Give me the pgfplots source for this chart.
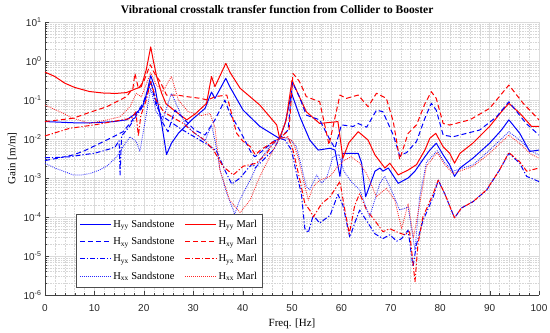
\documentclass[border=0pt]{standalone}
\usepackage{fontspec}
\setmainfont{Liberation Serif}
\setsansfont{Liberation Sans}
\usepackage{pgfplots}
\pgfplotsset{compat=1.18}
\tikzset{
  bS/.style={draw=blue, line width=1pt},
  rS/.style={draw=red, line width=1pt},
  bD/.style={draw=blue, line width=1pt, dash pattern=on 5pt off 3pt},
  rD/.style={draw=red, line width=1pt, dash pattern=on 5pt off 3pt},
  bDD/.style={draw=blue, line width=1pt, dash pattern=on 5pt off 2pt on 1.2pt off 2pt},
  rDD/.style={draw=red, line width=1pt, dash pattern=on 5pt off 2pt on 1.2pt off 2pt},
  bO/.style={draw=blue!85, line width=0.8pt, dash pattern=on 0.9pt off 1.1pt},
  rO/.style={draw=red!85, line width=0.8pt, dash pattern=on 0.9pt off 1.1pt},
}
\begin{document}
\begin{tikzpicture}
\begin{axis}[
  width=494pt, height=273pt, scale only axis,
  xmin=0, xmax=100, ymode=log, ymin=1e-6, ymax=1e1,
  axis x line*=bottom, axis y line*=left,
  axis line style={-, black!75},
  xtick={0,10,...,100},
  xticklabels={0,10,20,30,40,50,60,70,80,90,100},
  ytick={1e-6,1e-5,1e-4,1e-3,1e-2,1e-1,1,10},
  yticklabels={10\textsuperscript{-6},10\textsuperscript{-5},10\textsuperscript{-4},10\textsuperscript{-3},10\textsuperscript{-2},10\textsuperscript{-1},10\textsuperscript{0},10\textsuperscript{1}},
  ticklabel style={font=\sffamily\fontsize{10}{11}\selectfont, text=black!85},
  xticklabel style={yshift=-6pt},
  minor x tick num=4,
  tick align=inside, tick pos=left,
  major tick length=4pt, minor tick length=2pt,
  tick style={black!75},
  grid=both,
  major grid style={black!14, line width=0.4pt},
  minor grid style={black!16, line width=0.3pt, dash pattern=on 0.8pt off 0.8pt},
  xlabel={Freq. [Hz]}, ylabel={Gain [m/m]},
  label style={font=\fontsize{11}{12}\selectfont},
  title={\textbf{Vibrational crosstalk transfer function from Collider to Booster}},
  title style={font=\fontsize{11.5}{13}\selectfont, at={(0.47,1)}, yshift=-1pt},
  legend columns=2,
  legend cell align=left,
  legend style={name=leg, at={(0.063,0.03)}, anchor=south west, font=\fontsize{10.5}{12}\selectfont,
    draw=none, fill=white, inner xsep=3pt, inner ysep=4pt,
    /tikz/every even column/.append style={column sep=8pt},
    row sep=4.5pt},
  every axis plot/.append style={line join=round},
]
\coordinate (A) at (rel axis cs:0,0);
\coordinate (B) at (rel axis cs:1,1);
% Hyy Sandstone
\addplot[bS, legend image code/.code={\draw[bS] (0pt,0pt) -- (31pt,0pt);}] coordinates {
(0,0.028) (3,0.027) (6,0.026) (9,0.026) (12,0.027) (14,0.028) (16.5,0.031) (18.5,0.046) (19.8,0.07) (20.6,0.15) (21.4,0.42) (22.3,0.2) (23.6,0.025) (24.6,0.004) (25.6,0.0078) (27,0.014) (29.7,0.031) (32.4,0.061) (33.7,0.16) (34.4,0.11) (36.6,0.36) (37.4,0.22) (40.1,0.055) (43.5,0.021) (46.9,0.0114) (47.5,0.0104) (48.6,0.025) (49.9,0.15) (51.6,0.037) (53.6,0.0094) (55.3,0.0052) (57.7,0.0058) (58.7,0.0052) (59.7,0.0011) (60.3,0.0043) (63.4,0.0043) (64.1,0.0024) (64.9,0.00033) (66.8,0.0015) (67.8,0.0018) (68.4,0.0015) (69.5,0.0018) (71.5,0.00073) (73.5,0.001) (74.9,0.0015) (76.9,0.0035) (77.9,0.0052) (79.2,0.0078) (80.6,0.0039) (81.9,0.0022) (82.9,0.0011) (84,0.0018) (86.6,0.0032) (90,0.0078) (92.4,0.017) (93.9,0.031) (96.1,0.014) (98.1,0.0048) (100,0.0052)};
\addlegendentry{H\textsubscript{yy} Sandstone}
% Hyy Marl
\addplot[rS, legend image code/.code={\draw[rS] (0pt,0pt) -- (31pt,0pt);}] coordinates {
(0,0.52) (2,0.4) (4,0.27) (6,0.21) (9,0.165) (12,0.15) (14.5,0.148) (16.5,0.155) (18.2,0.19) (19.5,0.22) (20.5,0.6) (21.4,2.3) (21.9,1.06) (22.6,0.4) (23.6,0.15) (24.5,0.08) (26.5,0.05) (28.7,0.031) (30.5,0.045) (32.7,0.082) (33.7,0.4) (34.4,0.22) (36.6,0.87) (37.5,0.5) (39.5,0.2) (43.5,0.074) (46.9,0.023) (47.5,0.0104) (48.8,0.03) (50,0.32) (51.5,0.12) (52.9,0.05) (55.6,0.025) (59.3,0.028) (60.3,0.0032) (61.5,0.008) (63.4,0.0154) (65.4,0.0094) (66.8,0.0039) (68.8,0.0018) (69.8,0.0024) (71.5,0.0012) (73.5,0.0016) (75.2,0.0022) (76.9,0.0052) (77.9,0.0104) (79.1,0.014) (80.6,0.0063) (81.9,0.0043) (82.9,0.0024) (84,0.0043) (86.6,0.0078) (90,0.021) (92.4,0.05) (93.9,0.082) (96.1,0.046) (98.5,0.021) (100,0.021)};
\addlegendentry{H\textsubscript{yy} Marl}
% Hxy Sandstone
\addplot[bD, legend image code/.code={\draw[bD] (0pt,0pt) -- (31pt,0pt);}] coordinates {
(0,0.0028) (3,0.0033) (5.7,0.0039) (8,0.005) (10.5,0.0071) (13.8,0.0114) (15.8,0.0154) (17.5,0.028) (18.5,0.046) (19.8,0.08) (21.4,0.3) (22.6,0.082) (23.9,0.025) (24.9,0.0154) (26.3,0.055) (27.7,0.037) (30.3,0.017) (32.4,0.0126) (34.4,0.031) (36.4,0.1) (37.4,0.046) (39.4,0.017) (41.8,0.0043) (42.5,0.0035) (44.2,0.0052) (46.2,0.0086) (47.5,0.0104) (49.2,0.017) (50.1,0.28) (51.5,0.12) (52.9,0.041) (55.6,0.031) (57.7,0.0094) (58.7,0.0058) (60,0.023) (62.4,0.021) (63.4,0.025) (65.1,0.02) (67.1,0.055) (68.4,0.05) (70.5,0.0126) (71.8,0.0037) (73.2,0.0045) (75.2,0.0086) (76.9,0.034) (78.2,0.082) (79.2,0.055) (80.6,0.0126) (82.6,0.0114) (88,0.017) (91.4,0.037) (93.9,0.09) (97.4,0.025) (100,0.0126)};
\addlegendentry{H\textsubscript{xy} Sandstone}
% Hxy Marl
\addplot[rD, legend image code/.code={\draw[rD] (0pt,0pt) -- (31pt,0pt);}] coordinates {
(0,0.028) (3,0.031) (5.7,0.034) (9,0.048) (12.5,0.067) (16.5,0.122) (17.8,0.2) (18.2,0.48) (18.9,0.2) (20,0.3) (21.3,0.8) (22.3,0.45) (23.3,0.3) (24.6,0.134) (26.8,0.134) (28.7,0.122) (31.5,0.11) (32.9,0.1) (34.5,0.122) (36.8,0.134) (37.5,0.06) (38.8,0.014) (40,0.009) (41.6,0.0063) (42.6,0.0039) (43.6,0.0052) (46.3,0.0086) (47.5,0.0104) (49.4,0.017) (50.2,0.48) (51.5,0.3) (52.9,0.122) (55.6,0.09) (57.5,0.0071) (59.7,0.134) (61,0.11) (63.4,0.134) (65.4,0.067) (67.1,0.149) (69.1,0.11) (70.5,0.028) (71.8,0.003) (73.5,0.0139) (75.2,0.023) (76.9,0.08) (78.2,0.163) (79.2,0.11) (80.6,0.025) (81.9,0.0228) (86,0.031) (90,0.061) (93.9,0.242) (96.8,0.082) (100,0.031)};
\addlegendentry{H\textsubscript{xy} Marl}
% Hyx Sandstone
\addplot[bDD, legend image code/.code={\draw[bDD] (0pt,0pt) -- (31pt,0pt);}] coordinates {
(0,0.0033) (3,0.0034) (5,0.0035) (8,0.004) (10,0.0043) (13,0.0055) (14.2,0.0063) (15,0.009) (15.2,0.0012) (15.5,0.012) (17,0.02) (18.5,0.04) (19.5,0.06) (20.5,0.12) (21.4,0.3) (22.4,0.08) (23.5,0.04) (25,0.03) (27,0.02) (29,0.014) (31,0.01) (33,0.007) (34.7,0.005) (36.5,0.0015) (37.8,0.0007) (39.5,0.001) (41,0.0017) (42.1,0.0024) (42.5,0.0018) (44.8,0.0035) (46.2,0.0052) (47.5,0.0104) (48.6,0.0094) (49.9,0.0052) (50.9,0.0013) (51.9,0.0004) (52.6,0.00005) (53.3,0.00004) (54.3,0.00011) (55.6,0.00007) (57.7,0.00011) (59.3,0.00038) (60.3,0.0002) (61.7,0.00003) (62.7,0.00007) (63.7,0.00015) (65.1,0.00008) (66.8,0.000037) (68.4,0.000028) (69.8,0.000035) (71.2,0.000024) (72.2,0.000028) (73.5,0.000046) (74.5,0.0000053) (75.2,0.00002) (76.5,0.00008) (78.6,0.00033) (79.6,0.00088) (80.9,0.0004) (82.9,0.000095) (84.3,0.00017) (86.7,0.00025) (89.4,0.00049) (92,0.0016) (93.9,0.0043) (96.1,0.0024) (97.5,0.0011) (100,0.00081)};
\addlegendentry{H\textsubscript{yx} Sandstone}
% Hyx Marl
\addplot[rDD, legend image code/.code={\draw[rDD] (0pt,0pt) -- (31pt,0pt);}] coordinates {
(0,0.012) (5,0.0188) (10,0.023) (15,0.03) (17.5,0.034) (18.4,0.05) (18.9,0.012) (19.4,0.04) (20.5,0.1) (21.4,0.3) (22.5,0.1) (24,0.05) (26,0.035) (28,0.025) (30,0.015) (32,0.01) (34,0.0055) (36,0.002) (38.1,0.0012) (40.1,0.002) (42.8,0.0024) (44.9,0.0043) (46.2,0.0078) (47.5,0.0104) (49.2,0.0114) (50.2,0.0052) (51.6,0.00088) (52.6,0.00022) (53.6,0.00015) (54.3,0.0001) (56,0.00022) (57.7,0.00033) (59.7,0.00081) (60.7,0.00015) (61.6,0.000037) (62.7,0.0002) (63.7,0.0004) (65.1,0.00015) (66.8,0.00008) (68.4,0.000042) (69.8,0.00005) (71.5,0.00004) (72.8,0.000035) (73.8,0.000042) (74.9,0.0000022) (75.5,0.00002) (76.5,0.0001) (78.6,0.0004) (79.6,0.00088) (80.9,0.0004) (82.9,0.000095) (84.3,0.00017) (86.7,0.00025) (89.4,0.0005) (92,0.0016) (93.9,0.0045) (96.1,0.0026) (97.5,0.0015) (100,0.0018)};
\addlegendentry{H\textsubscript{yx} Marl}
% Hxx Sandstone
\addplot[bO, legend image code/.code={\draw[bO] (0pt,0pt) -- (31pt,0pt);}] coordinates {
(0,0.0024) (2,0.0018) (3.7,0.0015) (5.7,0.0012) (7.5,0.0012) (9.1,0.0013) (11,0.0016) (12.5,0.002) (14.5,0.0035) (15.8,0.0063) (17.2,0.0114) (18.5,0.0086) (19.2,0.0048) (20.3,0.03) (21.4,0.2) (22.5,0.05) (23.8,0.03) (25.6,0.149) (27,0.06) (28.3,0.025) (30.3,0.014) (32.4,0.009) (33.7,0.023) (34.5,0.008) (35.5,0.0015) (36.8,0.0004) (38.4,0.00012) (39.4,0.00027) (41.5,0.00088) (43.5,0.0029) (45.5,0.0063) (47.5,0.0104) (48.5,0.011) (49.9,0.009) (50.9,0.0063) (51.9,0.002) (52.9,0.0006) (53.6,0.0005) (55,0.0012) (56,0.00074) (57,0.001) (58.3,0.0035) (59.5,0.004) (60.5,0.0015) (62,0.0008) (63.7,0.0005) (65.7,0.0001) (67.8,0.00074) (68.8,0.0011) (70.5,0.00038) (71.8,0.00015) (73.5,0.00018) (74.9,0.000014) (75.8,0.0003) (77.2,0.0025) (79.4,0.005) (80.9,0.0025) (82.6,0.0015) (86.7,0.0022) (90,0.0052) (93.9,0.0154) (96.5,0.0085) (98.1,0.0052) (100,0.0039)};
\addlegendentry{H\textsubscript{xx} Sandstone}
% Hxx Marl
\addplot[rO, legend image code/.code={\draw[rO] (0pt,0pt) -- (31pt,0pt);}] coordinates {
(0,0.074) (3,0.05) (5.7,0.034) (9.1,0.025) (12.5,0.031) (15.2,0.037) (17.2,0.067) (18.5,0.149) (19.5,0.12) (21.4,0.5) (22.5,0.25) (23.8,0.163) (25.6,0.4) (27,0.1) (29,0.05) (31.7,0.04) (33.4,0.045) (34.4,0.02) (35.4,0.0016) (37.4,0.00027) (39.5,0.00013) (41.5,0.00027) (43.5,0.0011) (45.5,0.0035) (47.5,0.0104) (49,0.011) (50.2,0.0086) (51.2,0.0035) (52.3,0.00088) (53.3,0.00027) (54.3,0.0006) (55.6,0.00088) (57.7,0.0011) (59.3,0.002) (60.7,0.0029) (62,0.0035) (63.7,0.0024) (65.1,0.0013) (67.1,0.00033) (69.1,0.00055) (70.8,0.00027) (72.2,0.00005) (73.5,0.00022) (74.6,0.00003) (75.8,0.0002) (77.2,0.002) (79.4,0.0045) (80.9,0.0022) (82.6,0.0013) (86.7,0.002) (90,0.0043) (93.9,0.0126) (96.5,0.007) (98.1,0.0043) (100,0.0032)};
\addlegendentry{H\textsubscript{xx} Marl}
\end{axis}
\draw[black!70, line width=0.5pt] (leg.south west) rectangle (leg.north east);
\pgfresetboundingbox
\path[use as bounding box] ([xshift=-45pt,yshift=-37pt]A) rectangle ([xshift=11pt,yshift=22pt]B);
\end{tikzpicture}
\end{document}
